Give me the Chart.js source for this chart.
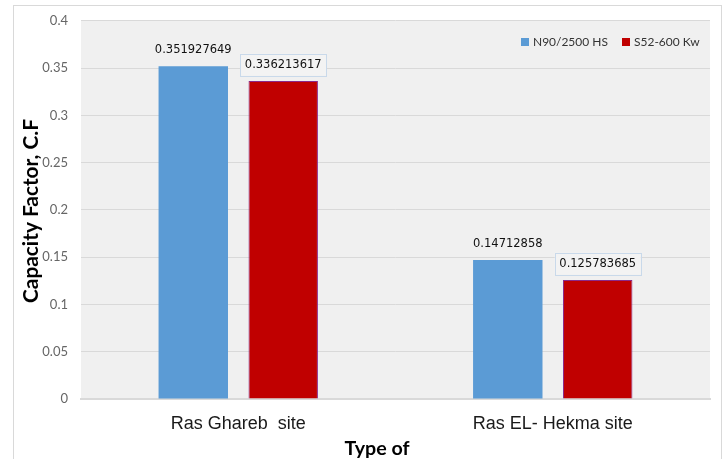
<!DOCTYPE html>
<html>
<head>
<meta charset="utf-8">
<script src="https://cdn.jsdelivr.net/npm/chart.js@4.4.0/dist/chart.umd.min.js"></script>
<style>
html,body{margin:0;padding:0;background:#fff;}
#wrap{width:724px;height:459px;position:relative;}
</style>
</head>
<body>
<div id="wrap"><canvas id="c" width="724" height="459"></canvas></div>
<script>
const categories = ["Ras Ghareb  site", "Ras EL- Hekma site"];
const seriesNames = ["N90/2500 HS", "S52-600 Kw"];
const n90Values = [0.351927649, 0.14712858];
const s52Values = [0.336213617, 0.125783685];
const yTicks = [0, 0.05, 0.1, 0.15, 0.2, 0.25, 0.3, 0.35, 0.4];
const yTitle = "Capacity Factor, C.F";
const xTitle = "Type of";

function fitFont(ctx, text, weight, family, targetW) {
  ctx.font = weight + " 20px " + family;
  const w = ctx.measureText(text).width;
  return 20 * targetW / w;
}

const decor = {
  id: 'decor',
  beforeDraw(chart) {
    const {ctx, chartArea: a} = chart;
    ctx.save();
    ctx.fillStyle = '#fff';
    ctx.fillRect(0, 0, chart.width, chart.height);
    ctx.fillStyle = '#f0f0f0';
    ctx.fillRect(a.left, a.top, a.right - a.left, a.bottom - a.top);
    ctx.restore();
  },
  afterDraw(chart) {
    const {ctx, chartArea: a} = chart;
    ctx.save();
    // outer border
    ctx.strokeStyle = '#d9d9d9';
    ctx.lineWidth = 1;
    ctx.strokeRect(13.5, 5.5, 708, 470);
    // data labels
    ctx.font = '11.5px "DejaVu Sans"';
    ctx.textAlign = 'center';
    ctx.textBaseline = 'middle';
    chart.data.datasets.forEach((ds, di) => {
      const meta = chart.getDatasetMeta(di);
      meta.data.forEach((bar, i) => {
        const v = ds.data[i];
        const txt = String(v);
        const x = bar.x, y = bar.y - 16.5;
        if (di === 1) {
          const w = Math.round(ctx.measureText(txt).width + 9);
          ctx.fillStyle = '#f3f3f3';
          ctx.fillRect(x - w / 2, y - 11, w, 22);
          ctx.strokeStyle = '#c9d9ea';
          ctx.strokeRect(Math.round(x - w / 2) + 0.5, Math.round(y - 11) + 0.5, w, 22);
        }
        ctx.fillStyle = '#111';
        ctx.fillText(txt, x, y + 0.5);
      });
    });
    // legend
    const legFont = fitFont(ctx, seriesNames[0], 'normal', 'Lato', 75);
    ctx.font = legFont + 'px Lato';
    ctx.textAlign = 'left';
    const items = [[521, seriesNames[0], chart.data.datasets[0].backgroundColor],
                   [622, seriesNames[1], chart.data.datasets[1].backgroundColor]];
    items.forEach(([x, t, col]) => {
      ctx.fillStyle = col;
      ctx.fillRect(x, 38, 8, 8);
      ctx.fillStyle = '#333';
      ctx.fillText(t, x + 12, 42);
    });
    // axis titles
    ctx.fillStyle = '#000';
    const ys = fitFont(ctx, yTitle, 'bold', 'Lato', 184);
    ctx.font = 'bold ' + ys + 'px Lato';
    ctx.textAlign = 'center';
    ctx.textBaseline = 'alphabetic';
    ctx.translate(38, 211);
    ctx.rotate(-Math.PI / 2);
    ctx.fillText(yTitle, 0, 0);
    ctx.setTransform(1, 0, 0, 1, 0, 0);
    const xs = fitFont(ctx, xTitle, 'bold', 'Lato', 65);
    ctx.font = 'bold ' + xs + 'px Lato';
    ctx.textBaseline = 'middle';
    ctx.fillText(xTitle, 377, 449);
    ctx.restore();
  }
};

new Chart(document.getElementById('c'), {
  type: 'bar',
  data: {
    labels: categories,
    datasets: [
      {label: seriesNames[0], data: n90Values, backgroundColor: '#5b9bd5', borderColor: '#6aa5da', borderWidth: 0,
       categoryPercentage: 0.572, barPercentage: 0.772},
      {label: seriesNames[1], data: s52Values, backgroundColor: '#c00000', borderColor: '#8a2a8a', borderWidth: 1,
       categoryPercentage: 0.572, barPercentage: 0.772}
    ]
  },
  options: {
    responsive: false,
    animation: false,
    devicePixelRatio: 1,
    layout: {padding: {left: 0, right: 14, top: 20, bottom: 0}},
    plugins: {legend: {display: false}, tooltip: {enabled: false}},
    scales: {
      x: {
        grid: {display: false, drawTicks: false},
        border: {display: true, color: '#d9d9d9', width: 2},
        ticks: {color: '#1a1a1a', font: {family: 'Liberation Sans', size: 18}, padding: 14},
        afterFit(s) { s.height = 60; }
      },
      y: {
        min: 0, max: 0.4,
        afterBuildTicks(s) { s.ticks = yTicks.map(v => ({value: v})); },
        grid: {color: '#d9d9d9', drawTicks: false, lineWidth: 1},
        border: {display: false},
        ticks: {color: '#666', font: {family: 'Lato', size: 13}, padding: 13,
                callback: v => String(v)},
        afterFit(s) { s.width = 81; }
      }
    }
  },
  plugins: [decor]
});
</script>
</body>
</html>
